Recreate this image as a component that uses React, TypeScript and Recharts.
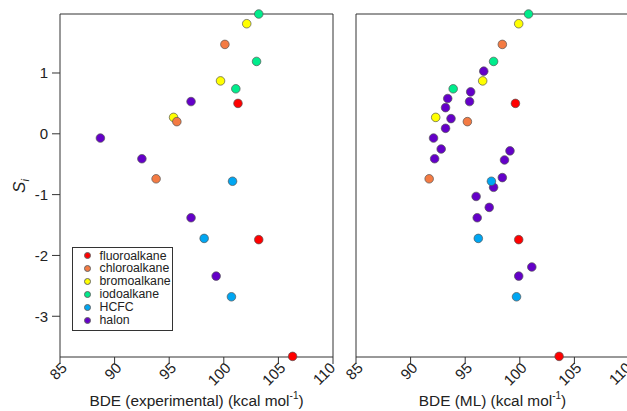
import React from "react";
import { ScatterChart, Scatter, XAxis, YAxis, ReferenceLine, Legend, Label } from "recharts";

const SERIES_NAMES = ["fluoroalkane", "chloroalkane", "bromoalkane", "iodoalkane", "HCFC", "halon"];
const SERIES_COLORS = ["#ff0000", "#f47b43", "#ffff00", "#00ec8c", "#00a6f2", "#6400c8"];
const X_TICKS = [85, 90, 95, 100, 105, 110];
const Y_TICKS = [-3, -2, -1, 0, 1];
const Y_MIN = -3.67;
const Y_MAX = 1.97;

// left panel: experimental BDE vs S_i
const expFluoro = [{ bde: 101.3, s: 0.5 }, { bde: 103.2, s: -1.74 }, { bde: 106.3, s: -3.66 }];
const expChloro = [{ bde: 100.1, s: 1.47 }, { bde: 95.7, s: 0.2 }, { bde: 93.8, s: -0.74 }];
const expBromo = [{ bde: 102.1, s: 1.81 }, { bde: 99.7, s: 0.87 }, { bde: 95.4, s: 0.27 }];
const expIodo = [{ bde: 103.2, s: 1.97 }, { bde: 103.0, s: 1.19 }, { bde: 101.1, s: 0.74 }];
const expHcfc = [{ bde: 100.8, s: -0.78 }, { bde: 98.2, s: -1.72 }, { bde: 100.7, s: -2.68 }];
const expHalon = [
  { bde: 97.0, s: 0.53 }, { bde: 88.7, s: -0.07 }, { bde: 92.5, s: -0.41 },
  { bde: 97.0, s: -1.38 }, { bde: 99.3, s: -2.34 },
];

// right panel: ML BDE vs S_i
const mlFluoro = [{ bde: 99.6, s: 0.5 }, { bde: 99.9, s: -1.74 }, { bde: 103.6, s: -3.66 }];
const mlChloro = [{ bde: 98.4, s: 1.47 }, { bde: 95.2, s: 0.2 }, { bde: 91.7, s: -0.74 }];
const mlBromo = [{ bde: 99.9, s: 1.81 }, { bde: 96.6, s: 0.87 }, { bde: 92.3, s: 0.27 }];
const mlIodo = [{ bde: 100.8, s: 1.97 }, { bde: 97.6, s: 1.19 }, { bde: 93.9, s: 0.74 }];
const mlHcfc = [{ bde: 97.4, s: -0.78 }, { bde: 96.2, s: -1.72 }, { bde: 99.7, s: -2.68 }];
const mlHalon = [
  { bde: 96.7, s: 1.03 }, { bde: 95.5, s: 0.69 }, { bde: 93.4, s: 0.58 }, { bde: 95.4, s: 0.53 },
  { bde: 93.2, s: 0.43 }, { bde: 93.7, s: 0.25 }, { bde: 93.2, s: 0.09 }, { bde: 92.1, s: -0.07 },
  { bde: 92.8, s: -0.25 }, { bde: 99.1, s: -0.28 }, { bde: 92.2, s: -0.41 }, { bde: 98.6, s: -0.43 },
  { bde: 98.4, s: -0.72 }, { bde: 97.6, s: -0.88 }, { bde: 96.0, s: -1.03 }, { bde: 97.2, s: -1.21 },
  { bde: 96.1, s: -1.38 }, { bde: 101.1, s: -2.19 }, { bde: 99.9, s: -2.34 },
];

const expSeries = [expFluoro, expChloro, expBromo, expIodo, expHcfc, expHalon];
const mlSeries = [mlFluoro, mlChloro, mlBromo, mlIodo, mlHcfc, mlHalon];

const FONT = "'Liberation Sans', Arial, Helvetica, sans-serif";
const INK = "#222";
const AXIS = "#333";

const Dot = (props: any) => (
  <circle cx={props.cx} cy={props.cy} r={4.3} fill={props.fill} stroke="#555" strokeWidth={0.7} />
);

const XTick = ({ x, y, payload }: any) => (
  <text
    x={x + 4}
    y={y - 1}
    transform={`rotate(-45 ${x + 4} ${y - 1})`}
    textAnchor="end"
    dominantBaseline="central"
    fontSize={15}
    fontFamily={FONT}
    fill={INK}
  >
    {payload.value}
  </text>
);

const LegendBox = () => (
  <div
    style={{
      width: 101,
      height: 84,
      boxSizing: "border-box",
      border: `1px solid ${AXIS}`,
      background: "#fff",
      paddingTop: 1.5,
      fontFamily: FONT,
      fontSize: 12.3,
      color: INK,
    }}
  >
    {SERIES_NAMES.map((name, i) => (
      <div key={name} style={{ display: "flex", alignItems: "center", height: 12.9 }}>
        <span
          style={{
            width: 7,
            height: 7,
            marginLeft: 11,
            marginRight: 8.5,
            borderRadius: "50%",
            background: SERIES_COLORS[i],
            border: "0.5px solid #666",
            boxSizing: "border-box",
          }}
        />
        <span style={{ lineHeight: "12.9px" }}>{name}</span>
      </div>
    ))}
  </div>
);

function Panel({ series, xTitle, left, showY }: { series: any[][]; xTitle: string; left: number; showY: boolean }) {
  // draw order so that the overlapping dots stack like the reference
  const order = [5, 4, 3, 2, 1, 0];
  return (
    <div style={{ position: "absolute", left, top: 0 }}>
      <ScatterChart width={340} height={411} margin={{ top: 14, right: 7, left: 0, bottom: 0 }}>
        <XAxis
          type="number"
          dataKey="bde"
          domain={[85, 110]}
          ticks={X_TICKS}
          height={54}
          tickSize={7}
          tickMargin={2}
          stroke={AXIS}
          tick={<XTick />}
        >
          <Label
            content={({ viewBox }: any) => (
              <text
                x={viewBox.x + viewBox.width / 2}
                y={viewBox.y + 49}
                textAnchor="middle"
                fontSize={15.4}
                fontFamily={FONT}
                fill={INK}
              >
                {xTitle}
                <tspan dy={-7} fontSize={10}>-1</tspan>
                <tspan dy={7}>)</tspan>
              </text>
            )}
          />
        </XAxis>
        <YAxis
          type="number"
          dataKey="s"
          domain={[Y_MIN, Y_MAX]}
          ticks={Y_TICKS}
          width={60}
          stroke={AXIS}
          tickSize={showY ? 8 : 0}
          tickMargin={4}
          tickLine={showY}
          tick={showY ? { fontSize: 15, fill: INK, fontFamily: FONT } : false}
        >
          {showY && (
            <Label
              content={() => (
                <text
                  x={25}
                  y={186}
                  transform="rotate(-90 25 186)"
                  textAnchor="middle"
                  fontSize={17}
                  fontFamily={FONT}
                  fontStyle="italic"
                  fill={INK}
                >
                  S<tspan dy={4} fontSize={11}>i</tspan>
                </text>
              )}
            />
          )}
        </YAxis>
        <ReferenceLine y={Y_MAX} stroke={AXIS} strokeWidth={1} />
        <ReferenceLine x={110} stroke={AXIS} strokeWidth={1} />
        {showY && (
          <Legend
            layout="vertical"
            align="center"
            verticalAlign="middle"
            wrapperStyle={{ left: 72, top: 247, width: 101 }}
            content={() => <LegendBox />}
          />
        )}
        {order.map((i) => (
          <Scatter
            key={SERIES_NAMES[i]}
            name={SERIES_NAMES[i]}
            data={series[i]}
            fill={SERIES_COLORS[i]}
            shape={<Dot />}
            isAnimationActive={false}
          />
        ))}
      </ScatterChart>
    </div>
  );
}

export default function App() {
  return (
    <div
      style={{
        position: "absolute",
        left: 0,
        top: 0,
        width: 627,
        height: 411,
        overflow: "hidden",
        background: "#fff",
      }}
    >
      <Panel series={expSeries} xTitle="BDE (experimental) (kcal mol" left={0} showY />
      <Panel series={mlSeries} xTitle="BDE (ML) (kcal mol" left={296} showY={false} />
    </div>
  );
}
